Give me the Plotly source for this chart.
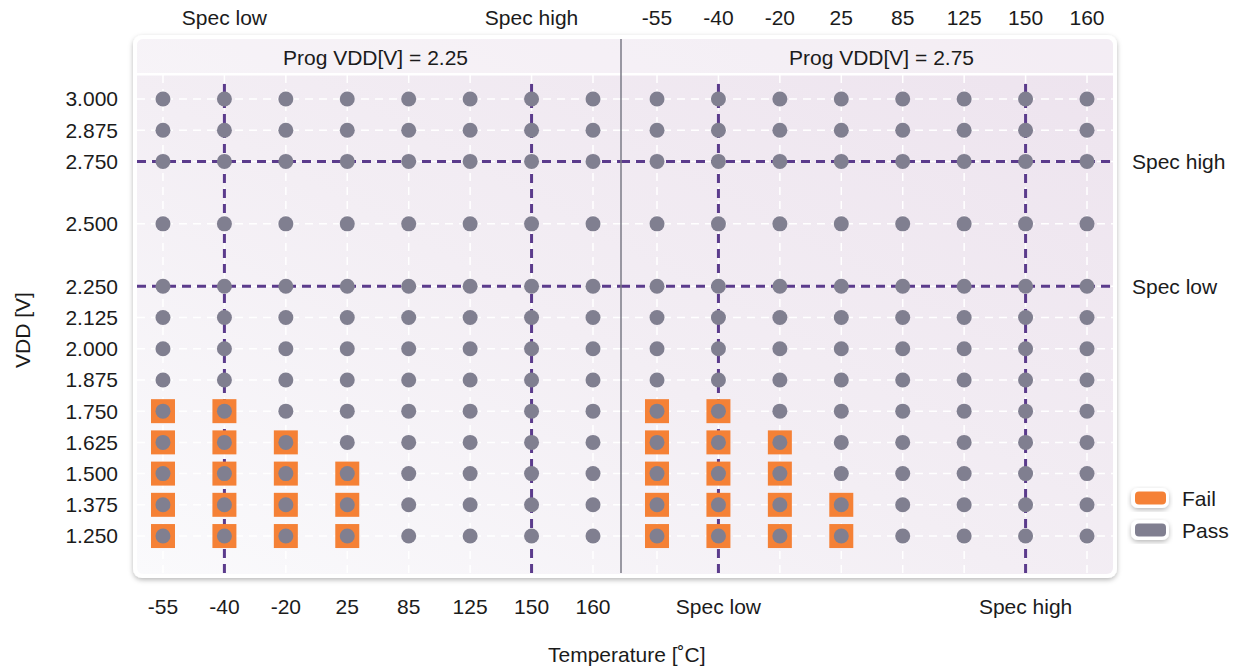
import base64
import plotly.graph_objects as go

# ---------------- data ----------------
temps = [-55, -40, -20, 25, 85, 125, 150, 160]
vdd_levels = [1.25, 1.375, 1.5, 1.625, 1.75, 1.875, 2.0, 2.125, 2.25, 2.5, 2.75, 2.875, 3.0]
facets = ["Prog VDD[V] = 2.25", "Prog VDD[V] = 2.75"]
# highest VDD that still fails at each temperature (None = all pass)
fail_max_225 = [1.75, 1.75, 1.625, 1.5, None, None, None, None]
fail_max_275 = [1.75, 1.75, 1.625, 1.375, None, None, None, None]
spec_temp = [-40, 150]
spec_temp_labels = ["Spec low", "Spec high"]
spec_vdd = [2.25, 2.75]
spec_vdd_labels = ["Spec low", "Spec high"]
legend_labels = ["Fail", "Pass"]

# ---------------- style ----------------
W, H = 1242, 668
FONT = "Helvetica Neue, Liberation Sans, Arial, sans-serif"
FS = 21
TXT = "#1b1b1b"
PASS_C = "#807f90"
FAIL_C = "#f58136"
SPEC_C = "#5b3b8c"
X1_RANGE = [-0.423, 7.456]
X2_RANGE = [-0.586, 7.423]
Y_RANGE = [1.102, 3.104]

cats = [str(t) for t in temps]


def px(x):
    return x / W


def py(y):
    return 1 - y / H


left_dom = [px(137), px(621)]
right_dom = [px(621), px(1113)]
y_dom = [py(573), py(73)]

fig = go.Figure()

for fmax, xa in [(fail_max_225, "x"), (fail_max_275, "x2")]:
    fx, fy, ax, ay = [], [], [], []
    for t, th in zip(temps, fmax):
        for v in vdd_levels:
            ax.append(str(t))
            ay.append(v)
            if th is not None and v <= th:
                fx.append(str(t))
                fy.append(v)
    fig.add_trace(go.Scatter(x=fx, y=fy, xaxis=xa, yaxis="y", mode="markers",
                             marker=dict(symbol="square", size=24, color=FAIL_C, line=dict(width=0)),
                             name="Fail", showlegend=False, hoverinfo="x+y+name"))
    fig.add_trace(go.Scatter(x=ax, y=ay, xaxis=xa, yaxis="y", mode="markers",
                             marker=dict(symbol="circle", size=15, color=PASS_C, line=dict(width=0)),
                             name="Pass", showlegend=False, hoverinfo="x+y"))

# invisible carriers so the label-only overlay axes get drawn
spec_cats = [str(t) for t in spec_temp]
fig.add_trace(go.Scatter(x=spec_cats, y=[None, None], xaxis="x3", yaxis="y", mode="markers",
                         marker=dict(opacity=0), showlegend=False, hoverinfo="skip"))
fig.add_trace(go.Scatter(x=spec_cats, y=[None, None], xaxis="x4", yaxis="y", mode="markers",
                         marker=dict(opacity=0), showlegend=False, hoverinfo="skip"))
fig.add_trace(go.Scatter(x=[None, None], y=spec_vdd, xaxis="x2", yaxis="y2", mode="markers",
                         marker=dict(opacity=0), showlegend=False, hoverinfo="skip"))

tickfont = dict(family=FONT, size=FS, color=TXT)
base_ax = dict(zeroline=False, showline=False, showgrid=False, ticks="", tickfont=tickfont,
               tickangle=0, automargin=False, fixedrange=True)
cat_ax = dict(type="category", categoryorder="array", categoryarray=cats)

fig.update_layout(
    width=W, height=H,
    margin=dict(l=0, r=0, t=0, b=0),
    paper_bgcolor="white", plot_bgcolor="rgba(0,0,0,0)",
    showlegend=False,
    font=dict(family=FONT, size=FS, color=TXT),
    xaxis=dict(domain=left_dom, range=X1_RANGE, anchor="y", side="bottom",
               tickvals=cats, ticktext=cats, ticklabelstandoff=19, **cat_ax, **base_ax),
    xaxis2=dict(domain=right_dom, range=X2_RANGE, anchor="y", side="top",
                tickvals=cats, ticktext=cats, ticklabelstandoff=43, **cat_ax, **base_ax),
    xaxis3=dict(overlaying="x", range=X1_RANGE, anchor="y", side="top",
                tickvals=spec_cats, ticktext=spec_temp_labels,
                ticklabelstandoff=43, **cat_ax, **base_ax),
    xaxis4=dict(overlaying="x2", range=X2_RANGE, anchor="y", side="bottom",
                tickvals=spec_cats, ticktext=spec_temp_labels,
                ticklabelstandoff=19, **cat_ax, **base_ax),
    yaxis=dict(domain=y_dom, range=Y_RANGE, anchor="x", side="left",
               tickvals=vdd_levels, ticktext=[f"{v:.3f}" for v in vdd_levels],
               ticklabelstandoff=18, **base_ax),
    yaxis2=dict(overlaying="y", range=Y_RANGE, anchor="x2", side="right",
                tickvals=spec_vdd, ticktext=spec_vdd_labels,
                ticklabelstandoff=18, **base_ax),
)

# white dashed grid (drawn first, below everything else in the plot)
# shapes on a category axis take the category index
GRID = dict(color="white", width=1.5, dash="8px,6px")
for xa in ["x", "x2"]:
    for i, _ in enumerate(cats):
        fig.add_shape(type="line", xref=xa, yref="y domain", x0=i, x1=i, y0=0, y1=1,
                      line=GRID, layer="below")
    for v in vdd_levels:
        fig.add_shape(type="line", xref=f"{xa} domain", yref="y", x0=0, x1=1, y0=v, y1=v,
                      line=GRID, layer="below")

# spec lines (above grid, below markers)
SPEC = dict(color=SPEC_C, width=3, dash="9px,6px")
for xa in ["x", "x2"]:
    for v in spec_vdd:
        fig.add_shape(type="line", xref=f"{xa} domain", yref="y", x0=0, x1=1, y0=v, y1=v,
                      line=SPEC, layer="below")
    for t in spec_temp:
        i = temps.index(t)
        fig.add_shape(type="line", xref=xa, yref="y domain", x0=i, x1=i, y0=0, y1=0.985,
                      line=SPEC, layer="below")

# facet divider
fig.add_shape(type="line", xref="paper", yref="paper", x0=px(621), x1=px(621),
              y0=py(39), y1=py(573), line=dict(color="#7a7a86", width=1.5), layer="above")

# facet strip labels
for name, cx in zip(facets, [375, 881]):
    fig.add_annotation(text=name, xref="paper", yref="paper", x=px(cx), y=py(58),
                       showarrow=False, xanchor="center", yanchor="middle",
                       font=dict(family=FONT, size=FS, color=TXT))

# axis titles
fig.add_annotation(text="Temperature [˚C]", xref="paper", yref="paper", x=px(627), y=py(654),
                   showarrow=False, xanchor="center", yanchor="middle",
                   font=dict(family=FONT, size=FS, color=TXT))
fig.add_annotation(text="VDD [V]", xref="paper", yref="paper", x=px(22), y=py(330),
                   showarrow=False, textangle=-90, xanchor="center", yanchor="middle",
                   font=dict(family=FONT, size=FS, color=TXT))

# legend text
for lab, cy in zip(legend_labels, [498, 530]):
    fig.add_annotation(text=lab, xref="paper", yref="paper", x=px(1180), y=py(cy),
                       showarrow=False, xanchor="left", yanchor="middle",
                       font=dict(family=FONT, size=FS, color=TXT))

# decorative panel background (gradient, rounded border, shadow, legend keys)
pill = ""
for col, cy in zip([FAIL_C, PASS_C], [498, 530]):
    pill += (f'<rect x="1131" y="{cy-10}" width="38" height="20" rx="7" fill="#fff" filter="url(#s)"/>'
             f'<rect x="1135" y="{cy-6.5}" width="31" height="13" rx="4" fill="{col}"/>')
svg = f'''<svg xmlns="http://www.w3.org/2000/svg" width="{W}" height="{H}" viewBox="0 0 {W} {H}">
<defs>
<linearGradient id="g" x1="0" y1="1" x2="1" y2="0">
<stop offset="0" stop-color="#fafafc"/><stop offset="0.45" stop-color="#f3eef4"/><stop offset="1" stop-color="#ede3ee"/>
</linearGradient>
<filter id="s" x="-10%" y="-10%" width="120%" height="130%"><feDropShadow dx="0" dy="2" stdDeviation="2.5" flood-color="#000" flood-opacity="0.28"/></filter>
</defs>
<rect x="133" y="35" width="984" height="543" rx="9" fill="#ffffff" filter="url(#s)"/>
<rect x="137" y="39" width="976" height="535" rx="6" fill="url(#g)"/>
<path d="M137,73 V45 Q137,39 143,39 H1107 Q1113,39 1113,45 V73 Z" fill="#ffffff" fill-opacity="0.35"/>
<rect x="137" y="73" width="976" height="2.5" fill="#ffffff"/>
{pill}
</svg>'''
src = "data:image/svg+xml;base64," + base64.b64encode(svg.encode()).decode()
fig.add_layout_image(dict(source=src, xref="paper", yref="paper", x=0, y=1, sizex=1, sizey=1,
                          xanchor="left", yanchor="top", sizing="stretch", layer="below"))

fig.write_html("out.html", config={"displayModeBar": False})
